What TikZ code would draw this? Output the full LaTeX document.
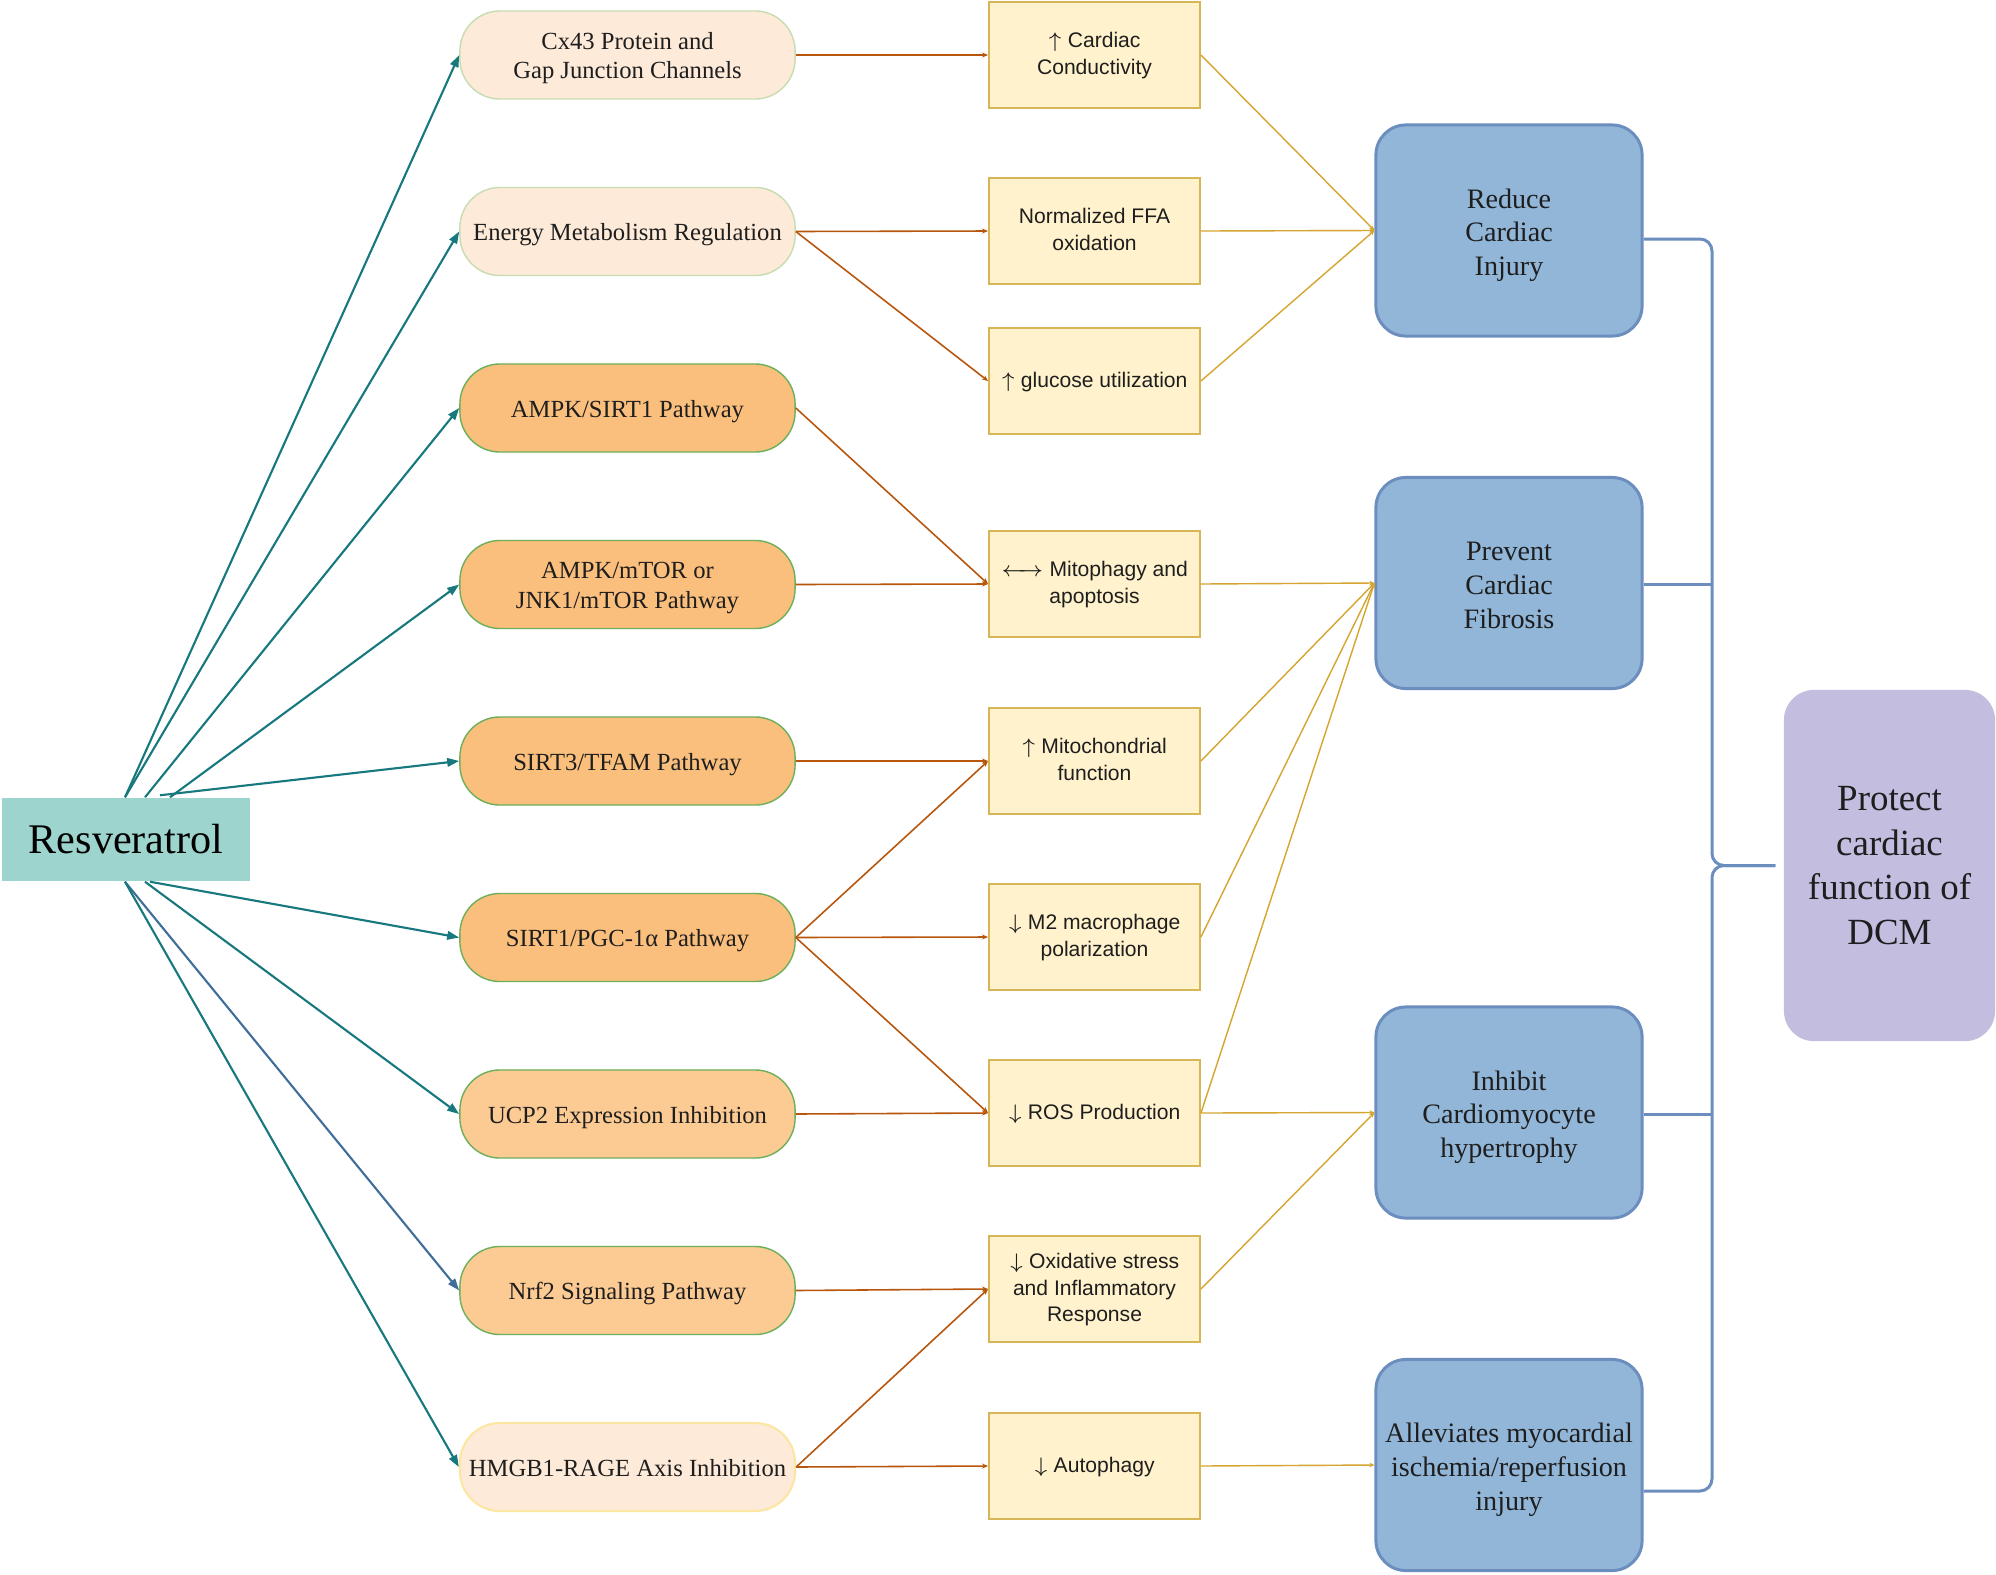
\documentclass[tikz,border=0pt]{standalone}
\usepackage{fontspec}
\setmainfont{Liberation Serif}
\newfontfamily\arialfont{Liberation Sans}
\usetikzlibrary{arrows.meta,calc}
\definecolor{tealA}{HTML}{17787E}
\definecolor{navyA}{HTML}{3F6E99}
\definecolor{resfill}{HTML}{9DD5CE}
\definecolor{palepeach}{HTML}{FDEAD8}
\definecolor{palegreen}{HTML}{C6DDB2}
\definecolor{orangeA}{HTML}{FBBF7D}
\definecolor{orangeB}{HTML}{FCCB94}
\definecolor{greenA}{HTML}{6DAF5A}
\definecolor{paleyel}{HTML}{FCE6A4}
\definecolor{resultfill}{HTML}{FFF2CC}
\definecolor{resultdraw}{HTML}{D6B656}
\definecolor{brownA}{HTML}{B8560E}
\definecolor{goldA}{HTML}{D5A530}
\definecolor{bluefill}{HTML}{91B6D8}
\definecolor{bluedraw}{HTML}{6C8EBF}
\definecolor{purplefill}{HTML}{C3BEDF}
\definecolor{textdark}{HTML}{1E1E1E}
\newcommand{\upar}{$\uparrow$}
\newcommand{\dnar}{$\downarrow$}
\newcommand{\lrar}{$\leftarrow\!\!\rightarrow$}
\newcommand{\pathtxt}[1]{\raisebox{-0.9pt}[\height][\depth]{\begin{tabular}{@{}c@{}}#1\end{tabular}}}
\newcommand{\restxt}[1]{\raisebox{-0.2pt}[\height][\depth]{\begin{tabular}{@{}c@{}}#1\end{tabular}}}
\newcommand{\outtxt}[1]{\raisebox{-1.3pt}[\height][\depth]{\begin{tabular}{@{}c@{}}#1\end{tabular}}}
\tikzset{
  pathbox/.style={draw, line width=0.4pt, rounded corners=0.4cm, minimum width=3.35cm, minimum height=0.88cm, inner sep=0pt, align=center, text=textdark, font=\fontsize{7}{8.3}\selectfont},
  pathlight/.style={pathbox, fill=palepeach, draw=palegreen},
  pathdark/.style={pathbox, fill=orangeA, draw=greenA},
  pathmid/.style={pathbox, fill=orangeB, draw=greenA},
  pathhm/.style={pathbox, fill=palepeach, draw=paleyel, line width=0.6pt},
  resbox/.style={draw=resultdraw, fill=resultfill, line width=0.5pt, minimum width=2.11cm, minimum height=1.06cm, inner sep=0pt, align=center, text=textdark, font=\arialfont\fontsize{6}{7.6}\selectfont},
  outbox/.style={draw=bluedraw, fill=bluefill, line width=0.85pt, rounded corners=0.3cm, minimum width=2.66cm, minimum height=2.11cm, inner sep=0pt, align=center, text=textdark, font=\fontsize{8}{9.6}\selectfont},
  tealarrow/.style={draw=tealA, line width=0.6pt, -{Triangle[length=0.12cm,width=0.085cm]}},
  brownarrow/.style={draw=brownA, line width=0.45pt, -{Stealth[length=0.06cm,width=0.05cm]}},
  goldarrow/.style={draw=goldA, line width=0.4pt, -{Stealth[length=0.05cm,width=0.045cm]}},
  bracketline/.style={draw=bluedraw, line width=0.85pt, rounded corners=0.12cm}
}
\begin{document}
\begin{tikzpicture}[x=0.01cm, y=-0.01cm]
\useasboundingbox (0,0) rectangle (1996,1575);
\fill[white] (0,0) rectangle (1996,1575);

% Resveratrol
\node[fill=resfill, minimum width=2.47cm, minimum height=0.83cm, inner sep=0pt, text=black, font=\fontsize{12}{14}\selectfont] (res) at (126,839.5) {Resveratrol};

% pathway nodes
\node[pathlight] (cx) at (627.5,55) {\pathtxt{Cx43 Protein and\\Gap Junction Channels}};
\node[pathlight] (en) at (627.5,231.5) {\pathtxt{Energy Metabolism Regulation}};
\node[pathdark] (as) at (627.5,408) {\pathtxt{AMPK/SIRT1 Pathway}};
\node[pathdark] (am) at (627.5,584.5) {\pathtxt{AMPK/mTOR or\\JNK1/mTOR Pathway}};
\node[pathdark] (st) at (627.5,761) {\pathtxt{SIRT3/TFAM Pathway}};
\node[pathdark] (sp) at (627.5,937.5) {\pathtxt{SIRT1/PGC-1α Pathway}};
\node[pathmid] (uc) at (627.5,1114) {\pathtxt{UCP2 Expression Inhibition}};
\node[pathmid] (nr) at (627.5,1290.5) {\pathtxt{Nrf2 Signaling Pathway}};
\node[pathhm] (hm) at (627.5,1467) {\pathtxt{HMGB1-RAGE Axis Inhibition}};

% result boxes
\node[resbox] (r1) at (1094.5,55) {\restxt{\upar{} Cardiac\\Conductivity}};
\node[resbox] (r2) at (1094.5,231) {\restxt{Normalized FFA\\oxidation}};
\node[resbox] (r3) at (1094.5,381) {\restxt{\upar{} glucose utilization}};
\node[resbox] (r4) at (1094.5,584) {\restxt{\lrar{} Mitophagy and\\apoptosis}};
\node[resbox] (r5) at (1094.5,761) {\restxt{\upar{} Mitochondrial\\function}};
\node[resbox] (r6) at (1094.5,937) {\restxt{\dnar{} M2 macrophage\\polarization}};
\node[resbox] (r7) at (1094.5,1113) {\restxt{\dnar{} ROS Production}};
\node[resbox] (r8) at (1094.5,1289) {\restxt{\dnar{} Oxidative stress\\and Inflammatory\\Response}};
\node[resbox] (r9) at (1094.5,1466) {\restxt{\dnar{} Autophagy}};

% outcome boxes
\node[outbox] (o1) at (1509,230.5) {\outtxt{Reduce\\Cardiac\\Injury}};
\node[outbox] (o2) at (1509,583) {\outtxt{Prevent\\Cardiac\\Fibrosis}};
\node[outbox] (o3) at (1509,1112.5) {\outtxt{Inhibit\\Cardiomyocyte\\hypertrophy}};
\node[outbox] (o4) at (1509,1465) {\outtxt{Alleviates myocardial\\ischemia/reperfusion\\injury}};

% final
\node[fill=purplefill, rounded corners=0.3cm, minimum width=2.11cm, minimum height=3.51cm, inner sep=0pt, align=center, text=textdark, font=\fontsize{10.5}{12.7}\selectfont] (pf) at (1889.5,865.5) {Protect\\cardiac\\function of\\DCM};

% teal arrows from Resveratrol
\draw[tealarrow] ($(res.north)+(-1,0)$) -- (cx.west);
\draw[tealarrow] ($(res.north)+(-1,0)$) -- (en.west);
\draw[tealarrow] ($(res.north)+(19,0)$) -- (as.west);
\draw[tealarrow] ($(res.north)+(44,0)$) -- (am.west);
\draw[tealarrow] ($(res.north)+(34,-2)$) -- (st.west);
\draw[tealarrow] ($(res.south)+(24,0)$) -- (sp.west);
\draw[tealarrow] ($(res.south)+(19,0)$) -- (uc.west);
\draw[tealarrow, draw=navyA] ($(res.south)+(-1,0)$) -- (nr.west);
\draw[tealarrow] ($(res.south)+(-1,0)$) -- (hm.west);

% brown arrows
\draw[brownarrow] (cx.east) -- (r1.west);
\draw[brownarrow] (en.east) -- (r2.west);
\draw[brownarrow] (en.east) -- (r3.west);
\draw[brownarrow] (as.east) -- (r4.west);
\draw[brownarrow] (am.east) -- (r4.west);
\draw[brownarrow] (st.east) -- (r5.west);
\draw[brownarrow] (sp.east) -- (r5.west);
\draw[brownarrow] (sp.east) -- (r6.west);
\draw[brownarrow] (sp.east) -- (r7.west);
\draw[brownarrow] (uc.east) -- (r7.west);
\draw[brownarrow] (nr.east) -- (r8.west);
\draw[brownarrow] (hm.east) -- (r8.west);
\draw[brownarrow] (hm.east) -- (r9.west);

% gold lines
\draw[goldarrow] (r1.east) -- (o1.west);
\draw[goldarrow] (r2.east) -- (o1.west);
\draw[goldarrow] (r3.east) -- (o1.west);
\draw[goldarrow] (r4.east) -- (o2.west);
\draw[goldarrow] (r5.east) -- (o2.west);
\draw[goldarrow] (r6.east) -- (o2.west);
\draw[goldarrow] (r7.east) -- (o2.west);
\draw[goldarrow] (r7.east) -- (o3.west);
\draw[goldarrow] (r8.east) -- (o3.west);
\draw[goldarrow] (r9.east) -- (o4.west);

% bracket
\coordinate (tip) at ($(pf.west)+(-8,0)$);
\draw[bracketline] ($(o1.east)+(0,8.5)$) -- (1712,239) -- (1712,865.5) -- (tip);
\draw[bracketline] ($(o4.east)+(0,26)$) -- (1712,1491) -- (1712,865.5) -- (tip);
\draw[draw=bluedraw, line width=0.85pt] ($(o2.east)+(0,1)$) -- (1712,584);
\draw[draw=bluedraw, line width=0.85pt] ($(o3.east)+(0,1.5)$) -- (1712,1114);
\end{tikzpicture}
\end{document}
